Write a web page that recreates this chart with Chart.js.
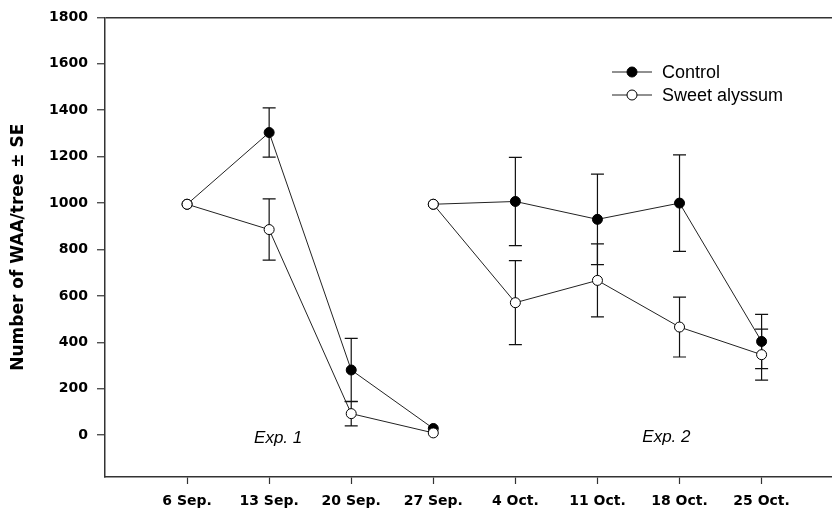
<!DOCTYPE html>
<html>
<head>
<meta charset="utf-8">
<script src="https://cdn.jsdelivr.net/npm/chart.js@4"></script>
<style>
  body { margin: 0; background: #fff; overflow: hidden; }
</style>
</head>
<body>
<canvas id="chart1" width="839" height="515"></canvas>
<script>
// sampling dates, x position = index + 1
var dates = ['6 Sep.', '13 Sep.', '20 Sep.', '27 Sep.', '4 Oct.', '11 Oct.', '18 Oct.', '25 Oct.'];
var exp1Idx = [0, 1, 2, 3];
var exp2Idx = [3, 4, 5, 6, 7];

var controlExp1   = [995, 1304, 281, 29];
var controlExp1SE = [0, 106, 136, 0];
var alyssumExp1   = [995, 886, 93, 10];
var alyssumExp1SE = [0, 132, 53, 0];

var controlExp2   = [995, 1007, 930, 1000, 404];
var controlExp2SE = [0, 190, 195, 208, 117];
var alyssumExp2   = [995, 571, 667, 466, 347];
var alyssumExp2SE = [0, 181, 157, 129, 110];

var yTicks = [0, 200, 400, 600, 800, 1000, 1200, 1400, 1600, 1800];

function pts(idx, vals) {
  return idx.map(function (d, i) { return { x: d + 1, y: vals[i] }; });
}

function ds(idx, vals, se, filled) {
  return {
    data: pts(idx, vals),
    se: se,
    borderColor: '#222',
    borderWidth: 1,
    pointRadius: 5,
    pointBorderWidth: 1,
    pointBorderColor: '#000',
    pointBackgroundColor: filled ? '#000' : '#fff',
    fill: false,
    tension: 0
  };
}

var errorBars = {
  id: 'errorBars',
  beforeDatasetsDraw: function (chart) {
    var c = chart.ctx, ys = chart.scales.y;
    c.save();
    c.strokeStyle = '#111';
    c.lineWidth = 1.2;
    chart.data.datasets.forEach(function (d, di) {
      var meta = chart.getDatasetMeta(di);
      meta.data.forEach(function (p, i) {
        var se = d.se[i];
        if (!se) return;
        var v = d.data[i].y;
        var top = ys.getPixelForValue(v + se), bot = ys.getPixelForValue(v - se);
        c.beginPath();
        c.moveTo(p.x, top); c.lineTo(p.x, bot);
        c.moveTo(p.x - 6.5, top); c.lineTo(p.x + 6.5, top);
        c.moveTo(p.x - 6.5, bot); c.lineTo(p.x + 6.5, bot);
        c.stroke();
      });
    });
    c.restore();
  }
};

var extras = {
  id: 'extras',
  afterDraw: function (chart) {
    var c = chart.ctx, xs = chart.scales.x, ys = chart.scales.y;
    c.save();
    // experiment labels
    c.fillStyle = '#000';
    c.font = 'italic 17px "Liberation Sans"';
    c.textAlign = 'center';
    c.textBaseline = 'middle';
    c.fillText('Exp. 1', xs.getPixelForValue(2.11), ys.getPixelForValue(-12));
    c.fillText('Exp. 2', xs.getPixelForValue(6.84), ys.getPixelForValue(-8));

    // legend
    var items = [['Control', '#000', 72], ['Sweet alyssum', '#fff', 95]];
    c.font = '18px "Liberation Sans"';
    c.textAlign = 'left';
    items.forEach(function (it) {
      c.strokeStyle = '#222';
      c.lineWidth = 1.2;
      c.beginPath();
      c.moveTo(612, it[2]); c.lineTo(652, it[2]);
      c.stroke();
      c.beginPath();
      c.arc(632, it[2], 5, 0, Math.PI * 2);
      c.fillStyle = it[1];
      c.fill();
      c.strokeStyle = '#000';
      c.lineWidth = 1;
      c.stroke();
      c.fillStyle = '#000';
      c.fillText(it[0], 662, it[2] + 1);
    });
    c.restore();
  }
};

var ctx = document.getElementById('chart1').getContext('2d');
var chart = new Chart(ctx, {
  type: 'line',
  data: {
    datasets: [
      ds(exp1Idx, alyssumExp1, alyssumExp1SE, false),
      ds(exp2Idx, alyssumExp2, alyssumExp2SE, false),
      ds(exp1Idx, controlExp1, controlExp1SE, true),
      ds(exp2Idx, controlExp2, controlExp2SE, true)
    ]
  },
  options: {
    responsive: false,
    animation: false,
    layout: { padding: { top: 15, right: 0, left: 0, bottom: 0 } },
    plugins: { legend: { display: false }, tooltip: { enabled: false } },
    scales: {
      x: {
        type: 'linear',
        min: 0,
        max: 8.87,
        afterBuildTicks: function (s) {
          s.ticks = dates.map(function (d, i) { return { value: i + 1 }; });
        },
        afterFit: function (s) { s.height = 38; },
        ticks: {
          padding: 9,
          color: '#000',
          font: { family: 'DejaVu Sans', size: 14, weight: 'bold' },
          callback: function (v) { return dates[v - 1]; }
        },
        grid: { drawOnChartArea: false, tickLength: 7, tickColor: '#333', tickWidth: 1.2 },
        border: { color: '#333', width: 1.5 }
      },
      y: {
        min: -180,
        max: 1800,
        afterBuildTicks: function (s) {
          s.ticks = yTicks.map(function (v) { return { value: v }; });
        },
        afterFit: function (s) { s.width = 105; },
        ticks: {
          padding: 9,
          color: '#000',
          font: { family: 'DejaVu Sans', size: 14, weight: 'bold' },
          callback: function (v) { return String(v); }
        },
        grid: {
          color: function (c) { return c.tick && c.tick.value === 1800 ? '#333' : 'transparent'; },
          lineWidth: 1.5,
          tickLength: 8,
          tickColor: '#333',
          tickWidth: 1.2
        },
        border: { color: '#333', width: 1.5 },
        title: {
          display: true,
          text: 'Number of WAA/tree \u00b1 SE',
          color: '#000',
          font: { family: 'DejaVu Sans', size: 17, weight: 'bold' },
          padding: { top: 8, bottom: 0 }
        }
      }
    }
  },
  plugins: [errorBars, extras]
});
</script>
</body>
</html>
